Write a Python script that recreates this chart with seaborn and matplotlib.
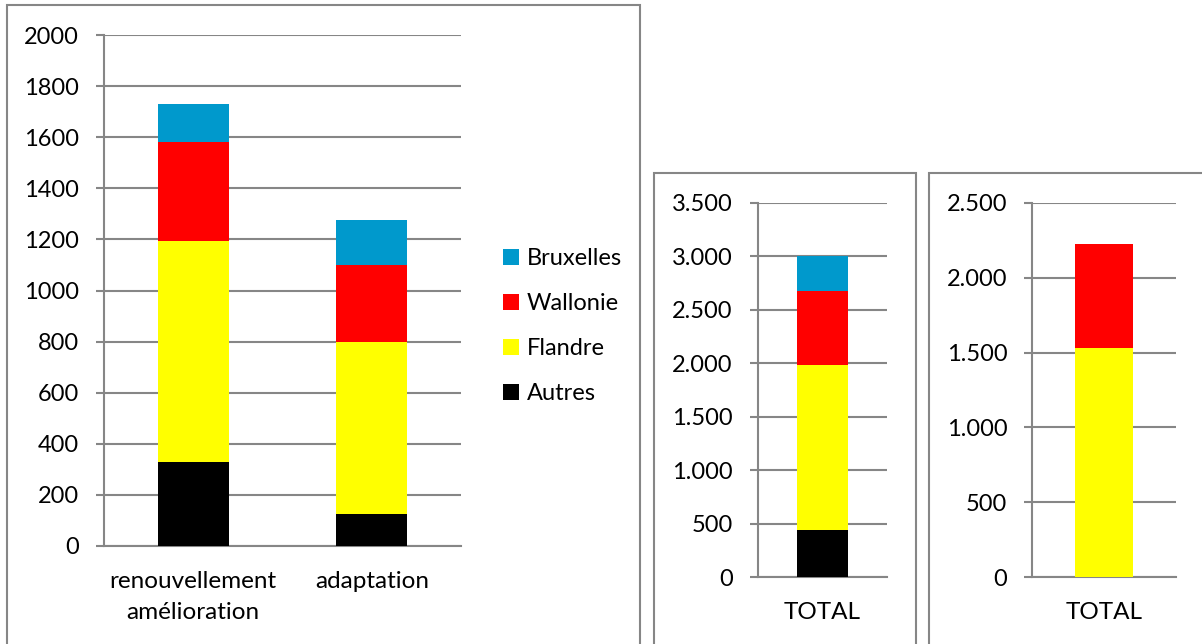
import matplotlib
matplotlib.use("Agg")
import matplotlib.pyplot as plt
from matplotlib.patches import Rectangle, Patch
from matplotlib.ticker import FuncFormatter, FixedLocator
import pandas as pd
import seaborn as sns

# Data: housing works by region (units)
regions = ["Autres", "Flandre", "Wallonie", "Bruxelles"]
colors = {"Autres": "#000000", "Flandre": "#FFFF00",
          "Wallonie": "#FF0000", "Bruxelles": "#0099CC"}

work_types = ["renouvellement\namélioration", "adaptation"]
autres = [330, 125]
flandre = [865, 672]
wallonie = [387, 302]
bruxelles = [148, 177]

total_label = ["TOTAL"]
total_autres = [445]
total_flandre = [1540]
total_wallonie = [690]
total_bruxelles = [325]

second_label = ["TOTAL"]
second_flandre = [1530]
second_wallonie = [695]

sns.set_theme(style="white")
plt.rcParams["font.family"] = ["Lato", "DejaVu Sans"]
plt.rcParams["text.color"] = "black"
plt.rcParams["xtick.color"] = "black"
plt.rcParams["ytick.color"] = "black"

GRID = "#868686"
W, H = 1202, 644
fig = plt.figure(figsize=(W / 100, H / 100), dpi=100)
fig.patch.set_facecolor("white")


def px_axes(x0, y0, x1, y1):
    return fig.add_axes([x0 / W, 1 - y1 / H, (x1 - x0) / W, (y1 - y0) / H])


def frame(x0, y0, x1, y1):
    fig.patches.append(Rectangle((x0 / W, 1 - y1 / H), (x1 - x0) / W, (y1 - y0) / H,
                                 transform=fig.transFigure, fill=False,
                                 edgecolor=GRID, linewidth=1.5, zorder=0))


def stacked(ax, cats, series, ymax, step, fmt):
    df = pd.DataFrame({"category": cats})
    cum = [0] * len(cats)
    for name, vals in series:
        cum = [c + v for c, v in zip(cum, vals)]
        df[name] = cum
    # draw tallest stack first so lower segments overlay it
    for name, _ in reversed(series):
        sns.barplot(data=df, x="category", y=name, color=colors[name],
                    saturation=1, width=0.4, ax=ax, zorder=3, linewidth=0)
    n = len(cats)
    ax.set_xlim(-0.5, n - 0.5)
    ax.set_ylim(0, ymax)
    ax.set_yticks(range(0, ymax + 1, step))
    ax.yaxis.set_major_formatter(FuncFormatter(fmt))
    ax.xaxis.set_minor_locator(FixedLocator([i - 0.5 for i in range(n + 1)]))
    ax.tick_params(axis="x", which="major", length=0, pad=18, labelsize=17.5,
                   labelcolor="black")
    ax.tick_params(axis="x", which="minor", length=6, width=1.5, color=GRID, direction="out")
    ax.tick_params(axis="y", length=6, width=1.5, color=GRID, direction="out",
                   pad=12, labelsize=17, left=True, labelcolor="black")
    ax.grid(axis="y", color=GRID, linewidth=1.5, zorder=0)
    ax.set_axisbelow(True)
    for s in ("top", "right"):
        ax.spines[s].set_visible(False)
    for s in ("left", "bottom"):
        ax.spines[s].set_color(GRID)
        ax.spines[s].set_linewidth(1.5)
    ax.set_xlabel("")
    ax.set_ylabel("")
    for lab in ax.get_xticklabels():
        lab.set_linespacing(1.6)


plain = lambda v, p: f"{int(v)}"
dotted = lambda v, p: f"{int(v):,}".replace(",", ".")

# Frames around each panel
frame(7, 5, 640, 660)
frame(654, 173, 916, 660)
frame(929, 173, 1215, 660)

ax1 = px_axes(104, 35, 461, 546)
stacked(ax1, work_types,
        [("Autres", autres), ("Flandre", flandre),
         ("Wallonie", wallonie), ("Bruxelles", bruxelles)],
        2000, 200, plain)

ax2 = px_axes(757.7, 202.7, 887.3, 577.3)
stacked(ax2, total_label,
        [("Autres", total_autres), ("Flandre", total_flandre),
         ("Wallonie", total_wallonie), ("Bruxelles", total_bruxelles)],
        3500, 500, dotted)

ax3 = px_axes(1032.3, 202.7, 1176, 577.3)
stacked(ax3, second_label,
        [("Flandre", second_flandre), ("Wallonie", second_wallonie)],
        2500, 500, dotted)

handles = [Patch(facecolor=colors[r], edgecolor="none", label=r)
           for r in ["Bruxelles", "Wallonie", "Flandre", "Autres"]]
fig.legend(handles=handles, loc="upper left",
           bbox_to_anchor=(482 / W, 1 - 227 / H), frameon=False,
           fontsize=17, handlelength=0.65, handleheight=0.65,
           handletextpad=0.35, labelspacing=1.02)

fig.savefig("out.png", dpi=100, facecolor="white")
